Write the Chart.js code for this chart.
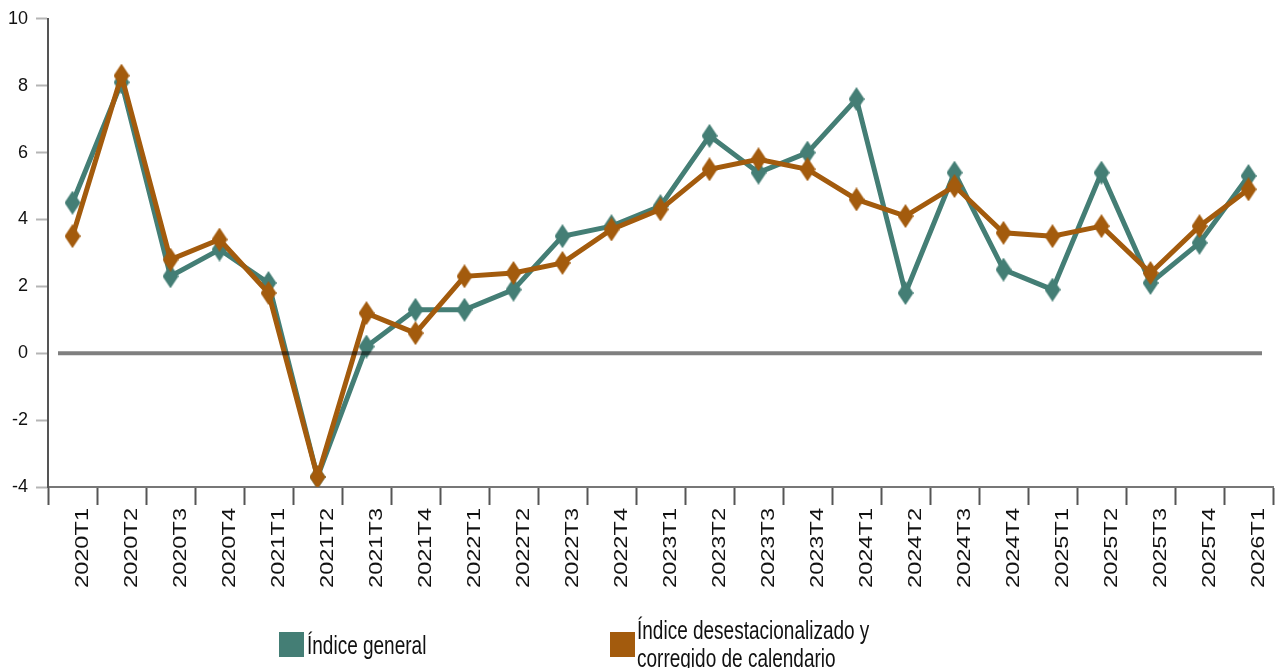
<!DOCTYPE html>
<html><head><meta charset="utf-8">
<script src="https://cdn.jsdelivr.net/npm/chart.js@4/dist/chart.umd.min.js"></script>
<style>
html,body{margin:0;padding:0;background:#fff;}
#wrap{position:relative;width:1275px;height:668px;overflow:hidden;background:#fff;}
canvas{position:absolute;left:0;top:0;}
.sw{position:absolute;width:25px;height:25px;}
.lt{position:absolute;font-family:"Liberation Sans",Arial,sans-serif;font-size:19px;color:#111;white-space:nowrap;line-height:22px;transform:scaleY(1.35);transform-origin:left center;}
</style></head><body>
<div id="wrap">
<canvas id="c" width="1275" height="668"></canvas>
<div class="sw" style="left:279px;top:632px;background:#447e75"></div>
<div class="lt" style="left:307px;top:635px;">Índice general</div>
<div class="sw" style="left:610px;top:632px;background:#a35b0d"></div>
<div class="lt" style="left:637px;top:620px;">Índice desestacionalizado y</div>
<div class="lt" style="left:637px;top:648px;">corregido de calendario</div>
</div>
<script>
const categories = ['2020T1','2020T2','2020T3','2020T4','2021T1','2021T2','2021T3','2021T4','2022T1','2022T2','2022T3','2022T4','2023T1','2023T2','2023T3','2023T4','2024T1','2024T2','2024T3','2024T4','2025T1','2025T2','2025T3','2025T4','2026T1'];
const indiceGeneral = [4.5, 8.1, 2.3, 3.1, 2.1, -3.7, 0.2, 1.3, 1.3, 1.9, 3.5, 3.8, 4.4, 6.5, 5.4, 6.0, 7.6, 1.8, 5.4, 2.5, 1.9, 5.4, 2.1, 3.3, 5.3];
const indiceDesestacionalizado = [3.5, 8.3, 2.8, 3.4, 1.8, -3.7, 1.2, 0.6, 2.3, 2.4, 2.7, 3.7, 4.3, 5.5, 5.8, 5.5, 4.6, 4.1, 5.0, 3.6, 3.5, 3.8, 2.4, 3.8, 4.9];
const yTicks = [-4, -2, 0, 2, 4, 6, 8, 10];
const seriesNames = ['Índice general', 'Índice desestacionalizado y corregido de calendario'];

const TEAL = '#447e75';
const ORANGE = '#a35b0d';

function diamond(color){
  const w = 16, h = 24;
  const cv = document.createElement('canvas');
  cv.width = w; cv.height = h;
  const g = cv.getContext('2d');
  g.fillStyle = color;
  g.beginPath();
  g.moveTo(w/2, 0); g.lineTo(w, h/2); g.lineTo(w/2, h); g.lineTo(0, h/2);
  g.closePath(); g.fill();
  return cv;
}

const zeroLine = {
  id: 'zeroLine',
  afterDatasetsDraw(chart){
    const y = chart.scales.y.getPixelForValue(0);
    const a = chart.chartArea;
    const c = chart.ctx;
    c.save();
    c.strokeStyle = 'rgba(0,0,0,0.5)';
    c.lineWidth = 4;
    c.beginPath();
    c.moveTo(a.left + 10, y);
    c.lineTo(a.right - 11, y);
    c.stroke();
    c.restore();
  }
};

const xLabels = {
  id: 'xLabels',
  afterDraw(chart){
    const s = chart.scales.x;
    const c = chart.ctx;
    c.save();
    c.fillStyle = '#111';
    c.font = '18px "Liberation Sans", Arial, sans-serif';
    c.textAlign = 'right';
    c.textBaseline = 'alphabetic';
    s.ticks.forEach((t, i) => {
      const x = s.getPixelForTick(i);
      c.save();
      c.translate(x + 15, chart.chartArea.bottom + 21);
      c.rotate(-Math.PI / 2);
      c.scale(1.31, 1);
      c.fillText(s.getLabelForValue(t.value), 0, 0);
      c.restore();
    });
    c.restore();
  }
};

new Chart(document.getElementById('c'), {
  type: 'line',
  data: {
    labels: categories,
    datasets: [
      {label: seriesNames[0], data: indiceGeneral, borderColor: TEAL, backgroundColor: TEAL,
       borderWidth: 5, pointStyle: diamond(TEAL), pointRadius: 8, order: 1, tension: 0, fill: false},
      {label: seriesNames[1], data: indiceDesestacionalizado, borderColor: ORANGE, backgroundColor: ORANGE,
       borderWidth: 5, pointStyle: diamond(ORANGE), pointRadius: 8, order: 0, tension: 0, fill: false}
    ]
  },
  options: {
    responsive: false,
    animation: false,
    layout: {autoPadding: false, padding: {top: 17, right: 2, left: 0, bottom: 0}},
    plugins: {legend: {display: false}, tooltip: {enabled: false}},
    scales: {
      x: {
        offset: true,
        grid: {offset: true, drawOnChartArea: false, drawTicks: true, tickLength: 18, tickColor: '#555', tickWidth: 2},
        border: {display: true, color: '#777', width: 2},
        ticks: {display: false},
        afterFit: (s) => { s.height = 181; }
      },
      y: {
        min: -4, max: 10,
        afterBuildTicks: (s) => { s.ticks = yTicks.map(v => ({value: v})); },
        grid: {drawOnChartArea: false, drawTicks: true, tickLength: 12, tickColor: '#b5b5b5', tickWidth: 2},
        border: {display: true, color: '#555', width: 2},
        ticks: {padding: 8, color: '#111', font: {family: '"Liberation Sans", Arial, sans-serif', size: 18}},
        afterFit: (s) => { s.width = 48; }
      }
    }
  },
  plugins: [zeroLine, xLabels]
});
</script>
</body></html>
